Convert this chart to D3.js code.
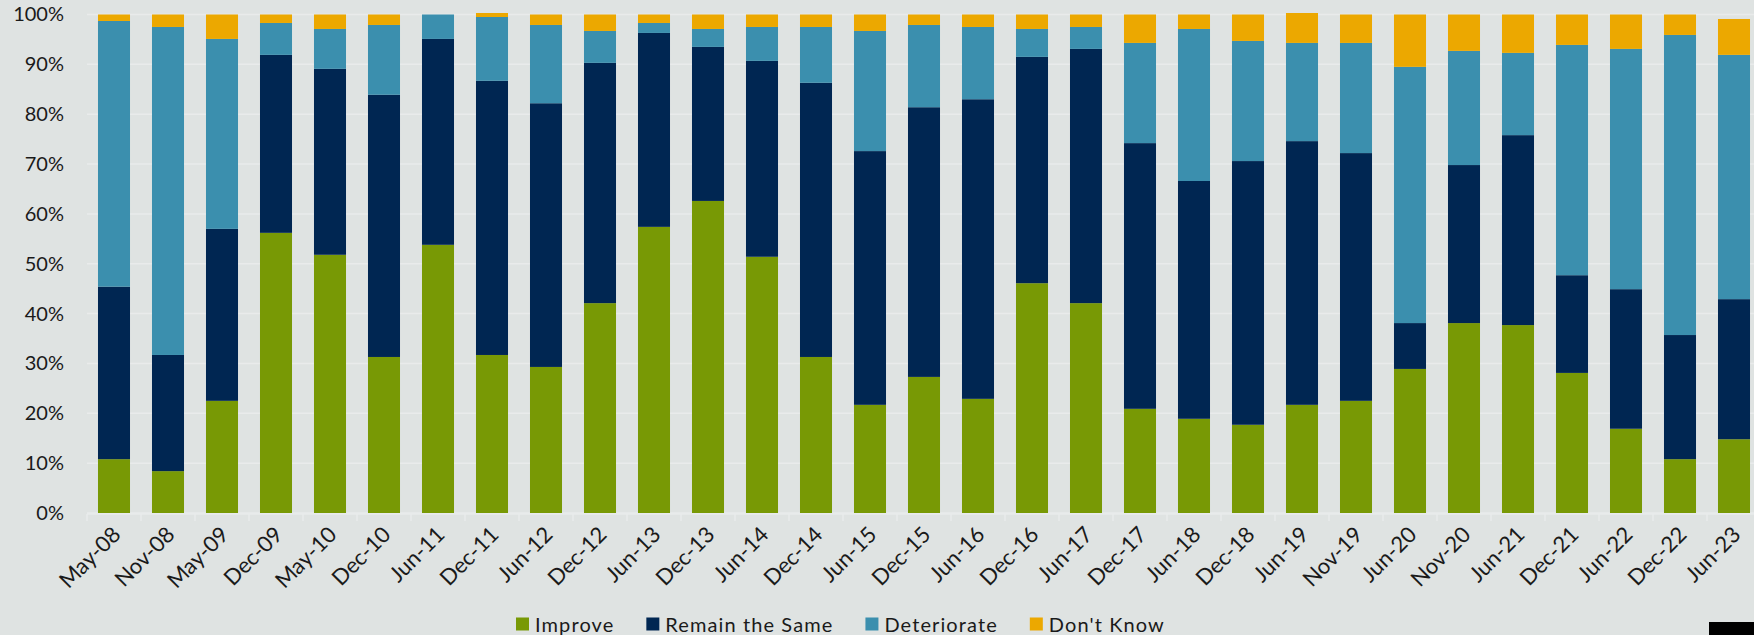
<!DOCTYPE html>
<html>
<head>
<meta charset="utf-8">
<script src="https://cdn.jsdelivr.net/npm/d3@7"></script>
<style>
  html, body { margin: 0; padding: 0; background: #dfe3e2; }
  #wrapper { width: 1754px; height: 635px; overflow: hidden; }
  text { font-family: Lato, "Open Sans", sans-serif; fill: #1a1a1a; }
</style>
</head>
<body>
<div id="wrapper"></div>
<script>
// survey rounds (x axis)
const periods = ["May-08", "Nov-08", "May-09", "Dec-09", "May-10", "Dec-10", "Jun-11", "Dec-11",
  "Jun-12", "Dec-12", "Jun-13", "Dec-13", "Jun-14", "Dec-14", "Jun-15", "Dec-15", "Jun-16",
  "Dec-16", "Jun-17", "Dec-17", "Jun-18", "Dec-18", "Jun-19", "Nov-19", "Jun-20", "Nov-20",
  "Jun-21", "Dec-21", "Jun-22", "Dec-22", "Jun-23"]

// share of answers, in percent
const improve = [10.8, 8.4, 22.5, 56.2, 51.8, 31.3, 53.8, 31.7, 29.3, 42.1, 57.4, 62.6, 51.4,
  31.3, 21.7, 27.3, 22.9, 46.1, 42.1, 20.9, 18.9, 17.7, 21.7, 22.5, 28.9, 38.1, 37.7, 28.1,
  16.9, 10.8, 14.8]
const remainSame = [34.6, 23.3, 34.5, 35.7, 37.3, 52.6, 41.3, 55.0, 52.9, 48.2, 38.9, 30.9, 39.3,
  55.0, 50.9, 54.1, 60.1, 45.4, 51.0, 53.3, 47.7, 52.9, 52.9, 49.7, 9.2, 31.7, 38.1, 19.6,
  28.0, 24.9, 28.1]
const deteriorate = [53.3, 65.8, 38.1, 6.4, 8.0, 14.0, 4.9, 12.8, 15.7, 6.4, 2.0, 3.6, 6.8,
  11.2, 24.1, 16.5, 14.5, 5.6, 4.4, 20.1, 30.5, 24.1, 19.7, 22.1, 51.4, 22.9, 16.5, 46.2,
  48.2, 60.2, 49.0]
const dontKnow = [1.3, 2.5, 4.9, 1.7, 2.9, 2.1, 0, 0.8, 2.1, 3.3, 1.7, 2.9, 2.5,
  2.5, 3.3, 2.1, 2.5, 2.9, 2.5, 5.7, 2.9, 5.3, 6.0, 5.7, 10.5, 7.3, 7.7, 6.1,
  6.9, 4.1, 7.2]

const yTicks = [0, 10, 20, 30, 40, 50, 60, 70, 80, 90, 100]

const seriesNames = ["Improve", "Remain the Same", "Deteriorate", "Don't Know"]
const seriesColors = ["#789905", "#002652", "#3b8fae", "#eca800"]

// build rows for d3.stack
const rows = periods.map((p, i) => ({
  period: p,
  "Improve": improve[i],
  "Remain the Same": remainSame[i],
  "Deteriorate": deteriorate[i],
  "Don't Know": dontKnow[i],
}))

const width = 1754
const height = 635

// plot area (the original chart runs a little past the right edge)
const plot = { left: 87, right: 1761, top: 14.5, bottom: 513 }

const svg = d3.select("#wrapper")
  .append("svg")
    .attr("width", width)
    .attr("height", height)

svg.append("rect")
  .attr("width", width)
  .attr("height", height)
  .attr("fill", "#dfe3e2")

const xScale = d3.scaleBand()
  .domain(periods)
  .range([plot.left, plot.right])
  .paddingInner(0.407)
  .paddingOuter(0.2035)

const yScale = d3.scaleLinear()
  .domain([0, 100])
  .range([plot.bottom, plot.top])

const colorScale = d3.scaleOrdinal()
  .domain(seriesNames)
  .range(seriesColors)

// gridlines
svg.append("g")
  .selectAll("line")
  .data(yTicks)
  .join("line")
    .attr("x1", plot.left)
    .attr("x2", width)
    .attr("y1", d => yScale(d))
    .attr("y2", d => yScale(d))
    .attr("stroke", "#e9ebeb")
    .attr("stroke-width", 1.5)

// y labels
const yAxis = d3.axisLeft(yScale)
  .tickValues(yTicks)
  .tickFormat(d => d + "%")
  .tickSize(0)
  .tickPadding(0)

svg.append("g")
    .attr("transform", `translate(64,0)`)
    .call(yAxis)
    .call(g => g.select(".domain").remove())
    .selectAll("text")
      .style("font-size", "20px")
      .attr("fill", "#1a1a1a")

// stacked bars
const stacked = d3.stack().keys(seriesNames)(rows)

svg.append("g")
  .selectAll("g")
  .data(stacked)
  .join("g")
    .attr("fill", d => colorScale(d.key))
  .selectAll("rect")
  .data(d => d)
  .join("rect")
    .attr("x", d => xScale(d.data.period))
    .attr("width", xScale.bandwidth())
    .attr("y", d => yScale(d[1]))
    .attr("height", d => yScale(d[0]) - yScale(d[1]))

// x axis: light baseline with ticks between bands
const xAxisG = svg.append("g")
xAxisG.append("line")
  .attr("x1", plot.left)
  .attr("x2", width)
  .attr("y1", plot.bottom + 1)
  .attr("y2", plot.bottom + 1)
  .attr("stroke", "#e9ebeb")
  .attr("stroke-width", 1.5)

const step = xScale.step()
xAxisG.selectAll(".tick")
  .data(periods)
  .join("line")
    .attr("class", "tick")
    .attr("x1", d => xScale(d) - xScale.paddingInner() * step / 2)
    .attr("x2", d => xScale(d) - xScale.paddingInner() * step / 2)
    .attr("y1", plot.bottom + 1)
    .attr("y2", plot.bottom + 8)
    .attr("stroke", "#e9ebeb")
    .attr("stroke-width", 1.5)

xAxisG.selectAll("text")
  .data(periods)
  .join("text")
    .attr("transform", d => `translate(${xScale(d) + xScale.bandwidth() / 2 + 8},${plot.bottom + 23}) rotate(-45)`)
    .attr("text-anchor", "end")
    .style("font-size", "22px")
    .text(d => d)

// legend along the bottom
const legend = svg.append("g")
let legendX = 516
seriesNames.forEach((name, i) => {
  legend.append("rect")
    .attr("x", legendX)
    .attr("y", 617.5)
    .attr("width", 13)
    .attr("height", 13)
    .attr("fill", seriesColors[i])
  const label = legend.append("text")
    .attr("x", legendX + 19)
    .attr("y", 631.5)
    .style("font-size", "20px")
    .style("letter-spacing", "1.1px")
    .text(name)
  legendX += 19 + label.node().getComputedTextLength() + 32
})

// small black block in the bottom right corner
svg.append("rect")
  .attr("x", 1709)
  .attr("y", 622)
  .attr("width", 45)
  .attr("height", 13)
  .attr("fill", "#000")
</script>
</body>
</html>
